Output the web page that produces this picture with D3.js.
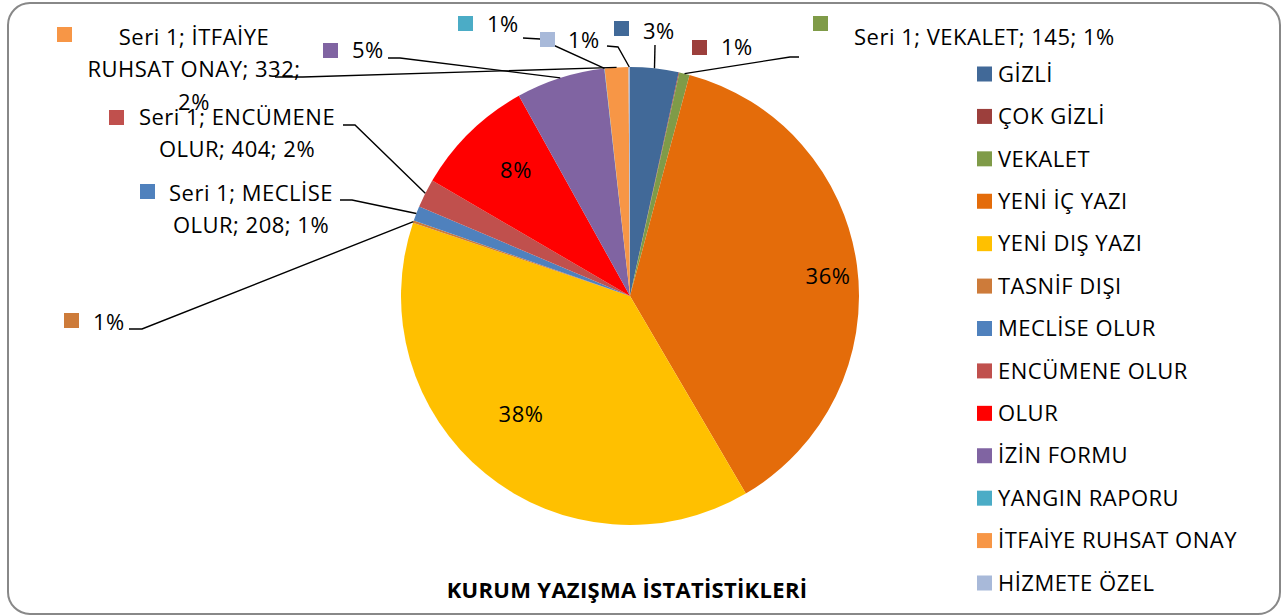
<!DOCTYPE html>
<html>
<head>
<meta charset="utf-8">
<script src="https://cdn.jsdelivr.net/npm/d3@7"></script>
<style>
  body { margin: 0; background: #fff; }
  svg { display: block; font-family: 'Open Sans', sans-serif; }
</style>
</head>
<body>
<div class="chart"></div>
<script>
// data
var categories = ['GİZLİ', 'ÇOK GİZLİ', 'VEKALET', 'YENİ İÇ YAZI', 'YENİ DIŞ YAZI', 'TASNİF DIŞI',
    'MECLİSE OLUR', 'ENCÜMENE OLUR', 'OLUR', 'İZİN FORMU', 'YANGIN RAPORU', 'İTFAİYE RUHSAT ONAY', 'HİZMETE ÖZEL'];
var values = [680, 10, 145, 7450, 7700, 30, 208, 404, 1700, 1250, 5, 332, 20];
var percentLabels = ['3%', '1%', '1%', '36%', '38%', '1%', '1%', '2%', '8%', '5%', '1%', '2%', '1%'];
var colors = ['#416998', '#9c3f3c', '#7f9b48', '#e46c0a', '#ffc000', '#cd7b3a',
    '#4f81bd', '#c0504d', '#ff0000', '#8064a2', '#4bacc6', '#f79646', '#a8b9d9'];
var seriesName = 'Seri 1';
var title = 'KURUM YAZIŞMA İSTATİSTİKLERİ';

var width = 1284, height = 616;
var cx = 630, cy = 296, radius = 229;
var fontSize = 22;
var spacing = '0.5px';

var svg = d3.select('.chart')
    .append('svg')
    .attr('width', width)
    .attr('height', height);

// frame
svg.append('rect')
    .attr('x', 8).attr('y', 3)
    .attr('width', 1272).attr('height', 611)
    .attr('rx', 22).attr('ry', 22)
    .attr('fill', '#fff')
    .attr('stroke', '#888')
    .attr('stroke-width', 2);

var pie = d3.pie().sort(null).value(function (d) { return d; });
var arcs = pie(values);
var arc = d3.arc().innerRadius(0).outerRadius(radius);

var pieG = svg.append('g').attr('transform', 'translate(' + cx + ',' + cy + ')');

pieG.selectAll('path')
    .data(arcs)
    .enter()
    .append('path')
    .attr('d', arc)
    .attr('fill', function (d, i) { return colors[i]; });

function edgePoint(d) {
    var a = (d.startAngle + d.endAngle) / 2;
    return [cx + radius * Math.sin(a), cy - radius * Math.cos(a)];
}

// label placement (manual, like the original)
var labelLayout = [
    { i: 0, sq: [614, 21], tx: 643, ty: 31, anchor: 'start', lines: null, leader: [[655, 45]] },
    { i: 1, sq: [692, 40], tx: 721, ty: 47, anchor: 'start', lines: null, leader: null },
    { i: 2, sq: [813, 16], tx: 854, ty: 37, anchor: 'start', lines: 'one', leader: [[799, 57], [790, 57]] },
    { i: 10, sq: [458, 16], tx: 487, ty: 24, anchor: 'start', lines: null, leader: [[523, 38], [540, 39]] },
    { i: 12, sq: [540, 32], tx: 568, ty: 40, anchor: 'start', lines: null, leader: [[607, 46], [618, 47]] },
    { i: 11, sq: [57, 27], tx: 194, ty: 37, anchor: 'middle', lines: ['Seri 1; İTFAİYE', 'RUHSAT ONAY; 332;', '2%'], leader: [[275, 77], [303, 77]] },
    { i: 9, sq: [323, 43], tx: 352, ty: 50, anchor: 'start', lines: null, leader: [[388, 58], [400, 58]] },
    { i: 7, sq: [109, 110], tx: 237, ty: 117, anchor: 'middle', lines: ['Seri 1; ENCÜMENE', 'OLUR; 404; 2%'], leader: [[343, 125], [355, 125]] },
    { i: 6, sq: [140, 184], tx: 251, ty: 193, anchor: 'middle', lines: ['Seri 1; MECLİSE', 'OLUR; 208; 1%'], leader: [[340, 200], [352, 200]] },
    { i: 5, sq: [64, 313], tx: 93, ty: 322, anchor: 'start', lines: null, leader: [[129, 329], [142, 329]] }
];

var insideLabels = [
    { i: 3, x: 828, y: 276 },
    { i: 4, x: 521, y: 414 },
    { i: 8, x: 516, y: 170 }
];

var line = d3.line();

svg.append('g')
    .selectAll('path')
    .data(labelLayout.filter(function (d) { return d.leader; }))
    .enter()
    .append('path')
    .attr('d', function (d) {
        return line(d.leader.concat([edgePoint(arcs[d.i])]));
    })
    .attr('fill', 'none')
    .attr('stroke', '#000')
    .attr('stroke-width', 1.4);

var labelG = svg.append('g')
    .selectAll('g')
    .data(labelLayout)
    .enter()
    .append('g');

labelG.append('rect')
    .attr('x', function (d) { return d.sq[0]; })
    .attr('y', function (d) { return d.sq[1]; })
    .attr('width', 15)
    .attr('height', 15)
    .attr('fill', function (d) { return colors[d.i]; });

labelG.each(function (d) {
    var g = d3.select(this);
    var lines;
    if (d.lines === 'one') {
        lines = [seriesName + '; ' + categories[d.i] + '; ' + values[d.i] + '; ' + percentLabels[d.i]];
    } else if (d.lines) {
        lines = d.lines;
    } else {
        lines = [percentLabels[d.i]];
    }
    lines.forEach(function (t, k) {
        g.append('text')
            .attr('x', d.tx)
            .attr('y', d.ty + k * 32.5)
            .attr('dy', '0.35em')
            .attr('text-anchor', d.anchor)
            .attr('font-size', fontSize)
            .attr('letter-spacing', spacing)
            .attr('fill', '#000')
            .text(t);
    });
});

svg.append('g')
    .selectAll('text')
    .data(insideLabels)
    .enter()
    .append('text')
    .attr('x', function (d) { return d.x; })
    .attr('y', function (d) { return d.y; })
    .attr('dy', '0.35em')
    .attr('text-anchor', 'middle')
    .attr('font-size', fontSize)
    .attr('letter-spacing', spacing)
    .text(function (d) { return percentLabels[d.i]; });

// legend
var legendY = d3.scalePoint()
    .domain(categories)
    .range([74, 583]);

var legend = svg.append('g')
    .selectAll('g')
    .data(categories)
    .enter()
    .append('g')
    .attr('transform', function (d) { return 'translate(977,' + legendY(d) + ')'; });

legend.append('rect')
    .attr('x', 0)
    .attr('y', -7.5)
    .attr('width', 15)
    .attr('height', 15)
    .attr('fill', function (d, i) { return colors[i]; });

legend.append('text')
    .attr('x', 21)
    .attr('dy', '0.35em')
    .attr('font-size', fontSize)
    .attr('letter-spacing', spacing)
    .text(function (d) { return d; });

svg.append('text')
    .attr('x', 627)
    .attr('y', 590)
    .attr('dy', '0.35em')
    .attr('text-anchor', 'middle')
    .attr('font-size', 22)
    .attr('letter-spacing', '0.3px')
    .attr('font-weight', 'bold')
    .text(title);
</script>
</body>
</html>
